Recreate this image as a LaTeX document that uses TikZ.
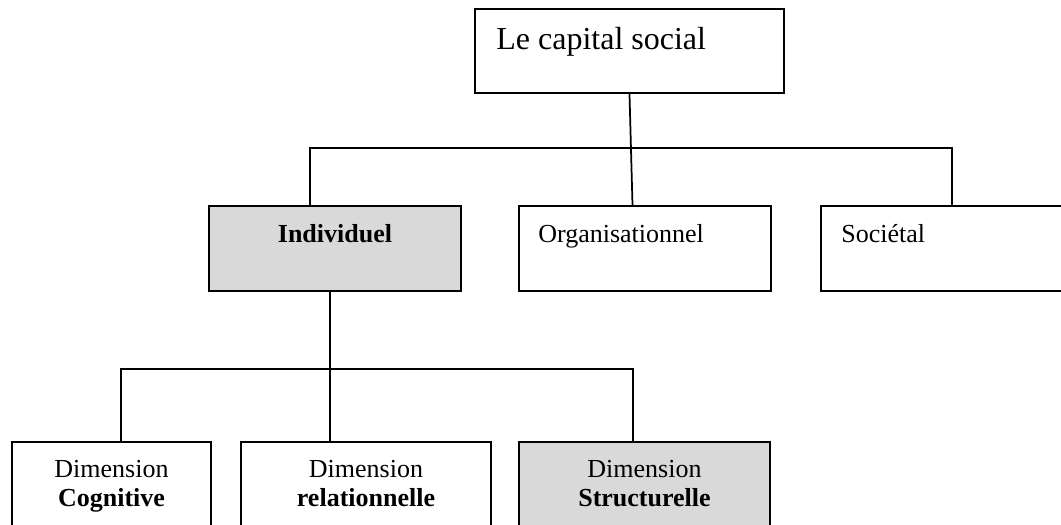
\documentclass[tikz,border=0pt]{standalone}
\usepackage{fontspec}
\setmainfont{Liberation Serif}
\usetikzlibrary{calc,fit}
\definecolor{boxgray}{RGB}{217,217,217}
\begin{document}
\begin{tikzpicture}[x=0.75pt,y=-0.75pt,
  box/.style={draw=black,line width=1.4pt,fill=white,inner sep=0pt},
  shaded/.style={box,fill=boxgray},
  link/.style={draw=black,line width=1.3pt},
  toptext/.style={font=\fontsize{24}{28}\selectfont,anchor=base west,inner sep=0pt},
  lbl/.style={font=\fontsize{19.5}{23}\selectfont,inner sep=0pt}]
\useasboundingbox (0,0) rectangle (1061,525);
\clip (0,0) rectangle (1061,525);

% top level
\node[box,fit={(475,9) (784,93)}] (top) {};
\node[toptext] (toplbl) at ($(top.north west)+(22,41)$) {Le capital social};

% middle level
\node[shaded,fit={(209,206) (461,291)}] (ind) {};
\node[box,fit={(519,206) (771,291)}] (org) {};
\node[box,fit={(821,206) (1075,291)}] (soc) {};
\node[lbl,anchor=base] (indlbl) at ($(ind.north)+(0,37)$) {\bfseries Individuel};
\node[lbl,anchor=base west] (orglbl) at ($(org.north west)+(20,37)$) {Organisationnel};
\node[lbl,anchor=base west] (soclbl) at ($(soc.north west)+(21,37)$) {Sociétal};

% bottom level
\node[box,fit={(12,442) (211,540)}] (cog) {};
\node[box,fit={(241,442) (491,540)}] (rel) {};
\node[shaded,fit={(519,442) (770,540)}] (str) {};
\foreach \b/\w in {cog/Cognitive,rel/relationnelle,str/Structurelle}{
  \node[lbl,anchor=base] (\b lblA) at ($(\b.north)+(0,36)$) {Dimension};
  \node[lbl,anchor=base] (\b lblB) at ($(\b.north)+(0,65)$) {\bfseries \w};
}

% bus lines
\coordinate (busL) at (310,148);
\coordinate (busR) at (952,148);
\coordinate (lowL) at (121,369);
\coordinate (lowM) at (330,369);
\coordinate (lowR) at (633,369);
\coordinate (drop) at ($(top.south |- org.north)+(3,0)$);

\draw[link] (top.south) -- (drop);
\draw[link] (ind.north -| busL) |- (busR) -- (soc.north -| busR);
\draw[link] (ind.south -| lowM) -- (rel.north -| lowM);
\draw[link] (cog.north -| lowL) |- (lowR) -- (str.north -| lowR);
\end{tikzpicture}
\end{document}
